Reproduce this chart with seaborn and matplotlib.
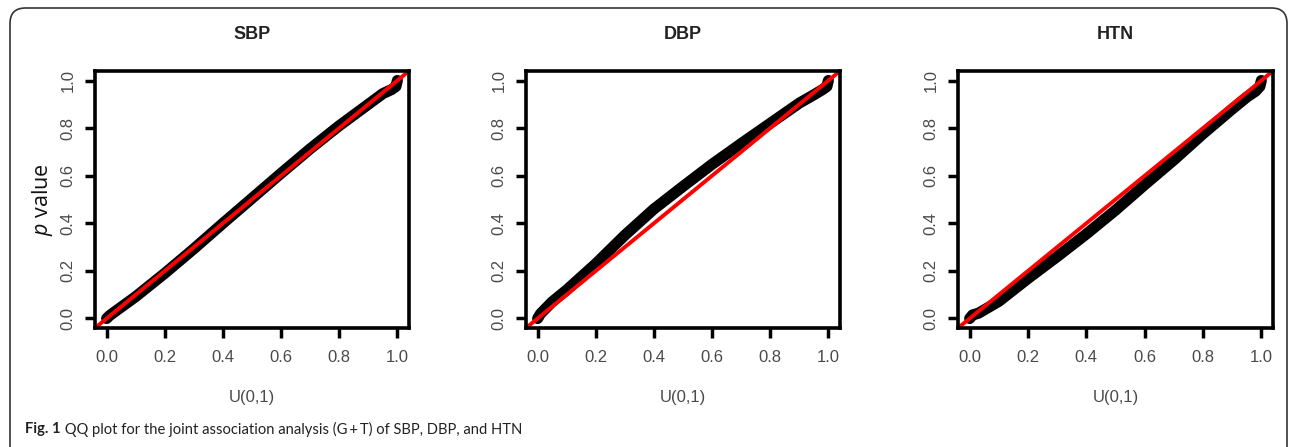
import numpy as np
import pandas as pd
import matplotlib
matplotlib.use("Agg")
import matplotlib.pyplot as plt
from matplotlib.patches import FancyBboxPatch
import seaborn as sns

panel_titles = ["SBP", "DBP", "HTN"]

sbp_u = [0.0, 0.01, 0.03, 0.1, 0.2, 0.3, 0.4, 0.5, 0.6, 0.7, 0.8, 0.9, 0.95, 0.98, 0.995, 1.0]
sbp_p = [0.0, 0.012, 0.03, 0.092, 0.19, 0.293, 0.40, 0.505, 0.61, 0.713, 0.81, 0.90, 0.945, 0.962, 0.975, 1.0]

dbp_u = [0.0, 0.01, 0.05, 0.1, 0.2, 0.3, 0.4, 0.5, 0.6, 0.7, 0.8, 0.9, 0.95, 0.98, 0.995, 1.0]
dbp_p = [0.0, 0.02, 0.07, 0.12, 0.23, 0.35, 0.46, 0.555, 0.648, 0.735, 0.82, 0.905, 0.94, 0.962, 0.975, 1.0]

htn_u = [0.0, 0.01, 0.03, 0.1, 0.2, 0.3, 0.4, 0.5, 0.6, 0.7, 0.8, 0.9, 0.95, 0.98, 0.995, 1.0]
htn_p = [0.0, 0.015, 0.022, 0.072, 0.168, 0.26, 0.355, 0.455, 0.562, 0.666, 0.776, 0.88, 0.93, 0.955, 0.975, 1.0]

x_ticks = [0.0, 0.2, 0.4, 0.6, 0.8, 1.0]
tick_labels = ["0.0", "0.2", "0.4", "0.6", "0.8", "1.0"]
x_label = "U(0,1)"
caption_bold = "Fig. 1"
caption_text = " QQ plot for the joint association analysis (G\u2009+\u2009T) of SBP, DBP, and HTN"

series = [(sbp_u, sbp_p), (dbp_u, dbp_p), (htn_u, htn_p)]

sns.set_theme(style="white")
plt.rcParams["font.family"] = ["Liberation Sans", "DejaVu Sans"]
plt.rcParams["mathtext.fontset"] = "custom"
plt.rcParams["mathtext.rm"] = "Open Sans"
plt.rcParams["mathtext.it"] = "Open Sans:italic"

cap_family, cap_size = ["Lato", "DejaVu Sans"], 10.6

fig = plt.figure(figsize=(12.9, 4.47), dpi=100)
W, H = 1290, 447

# outer rounded frame
frame = FancyBboxPatch((10 / W, -0.2), 1277 / W, 1.2 - 8 / H,
                       boxstyle="round,pad=0,rounding_size=0.012",
                       transform=fig.transFigure, facecolor="none",
                       edgecolor="#333333", linewidth=1.2, mutation_aspect=W / H)
fig.patches.append(frame)

lefts = [95, 526, 958]
widths = [314, 314, 315]
top, bottom = 71, 328

for i, (title, (u, p)) in enumerate(zip(panel_titles, series)):
    ax = fig.add_axes([lefts[i] / W, 1 - bottom / H, widths[i] / W, (bottom - top) / H])
    df = pd.DataFrame({"u": u, "p": p})
    sns.lineplot(data=df, x="u", y="p", ax=ax, color="black", linewidth=8,
                 solid_capstyle="round", solid_joinstyle="round", sort=False)
    ax.axline((0, 0), slope=1, color="#ff0000", linewidth=2.8)
    ax.set_xlim(-0.04, 1.04)
    ax.set_ylim(-0.04, 1.04)
    ax.set_xticks(x_ticks)
    ax.set_xticklabels(tick_labels)
    ax.set_yticks(x_ticks)
    ax.set_yticklabels(tick_labels, rotation=90, va="center")
    ax.tick_params(axis="both", direction="out", length=7, width=2.5, color="black",
                   labelsize=12, labelcolor="#4a4a4a", pad=9, bottom=True, left=True)
    ax.tick_params(axis="y", pad=7)
    for s in ax.spines.values():
        s.set_linewidth(2.6)
        s.set_color("black")
        s.set_visible(True)
    ax.set_title(title, fontsize=13, fontweight="bold", color="#222222", pad=23)
    ax.set_xlabel(x_label, fontsize=12, color="#4a4a4a", labelpad=18)
    if i == 0:
        ax.set_ylabel(r"$\mathit{p}$ value", fontsize=15.5, color="#111111",
                      family="Open Sans", labelpad=4)
    else:
        ax.set_ylabel("")

t1 = fig.text(25 / W, 1 - 429 / H, caption_bold, fontsize=cap_size, fontweight="bold",
              family=cap_family, va="center", ha="left", color="#222222")
fig.canvas.draw()
bb = t1.get_window_extent()
fig.text(bb.x1 / W, 1 - 429 / H, caption_text, fontsize=cap_size, family=cap_family,
         va="center", ha="left", color="#222222")

fig.savefig("out.png", dpi=100)
